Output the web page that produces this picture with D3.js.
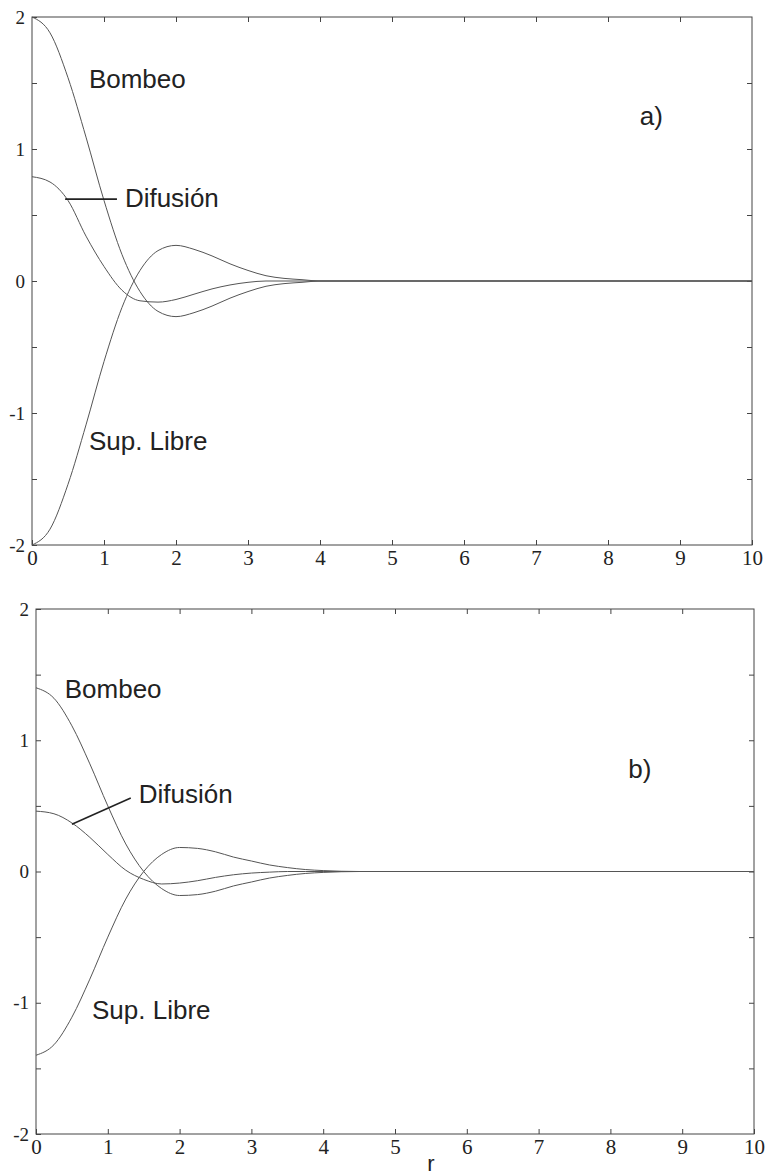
<!DOCTYPE html>
<html>
<head>
<meta charset="utf-8">
<script src="https://cdn.jsdelivr.net/npm/d3@7"></script>
<style>
  body { margin: 0; background: #fff; }
  svg { display: block; }
  .tick text { font-family: "Liberation Serif", "Times New Roman", serif; fill: #222; }
  .tick line { stroke: #444; }
  .note { font-family: "Liberation Sans", Arial, sans-serif; font-size: 26px; fill: #222; }
</style>
</head>
<body>
<svg width="767" height="1176"></svg>
<script>
// radial coordinate
var rVals = [0, 0.25, 0.5, 0.75, 1, 1.25, 1.5, 1.75, 2, 2.25, 2.5, 2.75, 3, 3.25, 3.5, 3.75, 4, 4.5, 5, 6, 7, 8, 9, 10];

// panel a)
var bombeoA   = [2.00, 1.88, 1.54, 1.09, 0.61, 0.20, -0.08, -0.23, -0.27, -0.24, -0.19, -0.13, -0.08, -0.04, -0.02, -0.01, 0, 0, 0, 0, 0, 0, 0, 0];
var difusionA = [0.79, 0.75, 0.61, 0.34, 0.11, -0.07, -0.15, -0.16, -0.14, -0.10, -0.06, -0.03, -0.01, 0, 0, 0, 0, 0, 0, 0, 0, 0, 0, 0];
var supLibreA = [-2.00, -1.88, -1.54, -1.09, -0.61, -0.20, 0.08, 0.23, 0.27, 0.24, 0.19, 0.13, 0.08, 0.04, 0.02, 0.01, 0, 0, 0, 0, 0, 0, 0, 0];

// panel b)
var bombeoB   = [1.40, 1.32, 1.11, 0.82, 0.50, 0.21, 0.00, -0.13, -0.183, -0.176, -0.15, -0.11, -0.08, -0.05, -0.03, -0.015, -0.007, 0, 0, 0, 0, 0, 0, 0];
var difusionB = [0.46, 0.44, 0.37, 0.26, 0.13, 0.01, -0.06, -0.095, -0.088, -0.07, -0.045, -0.025, -0.012, -0.005, 0, 0, 0, 0, 0, 0, 0, 0, 0, 0];
var supLibreB = [-1.40, -1.32, -1.11, -0.82, -0.50, -0.21, 0.00, 0.13, 0.183, 0.176, 0.15, 0.11, 0.08, 0.05, 0.03, 0.015, 0.007, 0, 0, 0, 0, 0, 0, 0];

// axis ticks
var xTicks = [0, 1, 2, 3, 4, 5, 6, 7, 8, 9, 10];
var yTicks = [-2, -1.5, -1, -0.5, 0, 0.5, 1, 1.5, 2];

var seriesNames = ["Bombeo", "Difusión", "Sup. Libre"];

var svg = d3.select("svg");

function drawPanel(box, series, notes) {
  var x = d3.scaleLinear().domain([0, 10]).range([box.left, box.right]);
  var y = d3.scaleLinear().domain([-2, 2]).range([box.bottom, box.top]);
  var g = svg.append("g");

  // frame
  g.append("rect")
    .attr("x", box.left).attr("y", box.top)
    .attr("width", box.right - box.left).attr("height", box.bottom - box.top)
    .attr("fill", "none").attr("stroke", "#444").attr("stroke-width", 1);

  var yLabel = function(d) { return Number.isInteger(d) ? String(d) : ""; };

  g.append("g").attr("transform", "translate(0," + box.bottom + ")")
    .call(d3.axisBottom(x).tickValues(xTicks).tickSize(-5).tickPadding(5).tickFormat(function(d) { return String(d); }))
    .call(function(a) { a.select(".domain").remove(); a.selectAll("text").style("font-size", "21px"); });
  g.append("g").attr("transform", "translate(0," + box.top + ")")
    .call(d3.axisTop(x).tickValues(xTicks.slice(1, -1)).tickSize(-5).tickFormat(""))
    .call(function(a) { a.select(".domain").remove(); });
  g.append("g").attr("transform", "translate(" + box.left + ",0)")
    .call(d3.axisLeft(y).tickValues(yTicks).tickSize(-5).tickPadding(7).tickFormat(yLabel))
    .call(function(a) { a.select(".domain").remove(); a.selectAll("text").style("font-size", "19px"); });
  g.append("g").attr("transform", "translate(" + box.right + ",0)")
    .call(d3.axisRight(y).tickValues(yTicks.slice(1, -1)).tickSize(-5).tickFormat(""))
    .call(function(a) { a.select(".domain").remove(); });

  var line = d3.line()
    .x(function(d) { return x(d[0]); })
    .y(function(d) { return y(d[1]); })
    .curve(d3.curveMonotoneX);

  series.forEach(function(vals) {
    g.append("path")
      .datum(d3.zip(rVals, vals))
      .attr("d", line)
      .attr("fill", "none")
      .attr("stroke", "#555")
      .attr("stroke-width", 1);
  });

  // leader line for Difusión
  g.append("line")
    .attr("x1", x(notes.leader[0])).attr("y1", y(notes.leader[1]))
    .attr("x2", x(notes.leader[2])).attr("y2", y(notes.leader[3]))
    .attr("stroke", "#222").attr("stroke-width", 1.6);

  notes.labels.forEach(function(n) {
    g.append("text").attr("class", "note")
      .attr("x", x(n[1])).attr("y", y(n[2]))
      .text(n[0]);
  });
  return { x: x, y: y };
}

drawPanel({ left: 32, right: 752, top: 17, bottom: 545 },
  [bombeoA, difusionA, supLibreA],
  {
    leader: [0.46, 0.62, 1.18, 0.62],
    labels: [[seriesNames[0], 0.79, 1.46], [seriesNames[1], 1.29, 0.56], [seriesNames[2], 0.79, -1.28], ["a)", 8.44, 1.18]]
  });

drawPanel({ left: 36, right: 754, top: 609, bottom: 1134 },
  [bombeoB, difusionB, supLibreB],
  {
    leader: [0.50, 0.36, 1.32, 0.56],
    labels: [[seriesNames[0], 0.40, 1.32], [seriesNames[1], 1.43, 0.52], [seriesNames[2], 0.78, -1.12], ["b)", 8.25, 0.71]]
  });

svg.append("text")
  .attr("x", 431).attr("y", 1171)
  .attr("text-anchor", "middle")
  .style("font-family", "'Liberation Sans', Arial, sans-serif")
  .style("font-size", "22px").style("fill", "#222")
  .text("r");
</script>
</body>
</html>
